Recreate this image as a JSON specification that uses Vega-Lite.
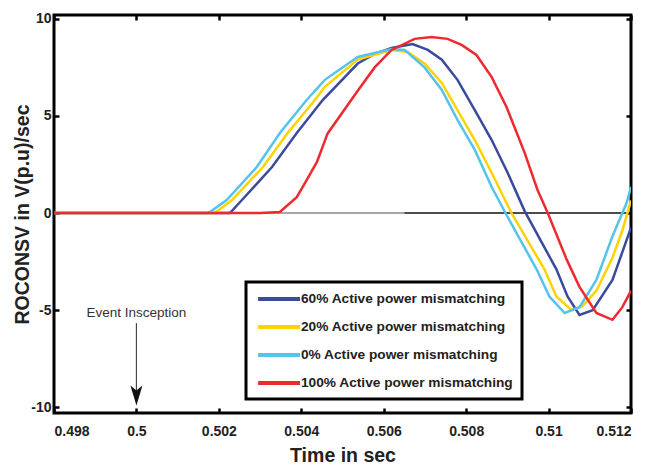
{
  "$schema": "https://vega.github.io/schema/vega-lite/v6.json",
  "width": 577,
  "height": 398,
  "autosize": {"type": "none"},
  "padding": {"left": 54, "top": 15, "right": 19, "bottom": 52},
  "background": "white",
  "config": {
    "view": {"stroke": "black", "strokeWidth": 3},
    "axis": {
      "domain": false, "grid": false, "ticks": true, "tickSize": -5, "tickWidth": 2.5, "tickColor": "black",
      "labelFont": "Liberation Sans, Arial, sans-serif", "labelFontSize": 14, "labelFontWeight": "bold", "labelColor": "#222",
      "titleFont": "Liberation Sans, Arial, sans-serif", "titleFontSize": 19.5, "titleFontWeight": "bold", "titleColor": "#222"
    },
    "legend": {"strokeWidth": 3}
  },
  "datasets": {
    "curves": [
      {"s": "60% Active power mismatching", "t": 0.498, "v": 0},
      {"s": "60% Active power mismatching", "t": 0.50227, "v": 0},
      {"s": "60% Active power mismatching", "t": 0.50256, "v": 0.67},
      {"s": "60% Active power mismatching", "t": 0.50329, "v": 2.37},
      {"s": "60% Active power mismatching", "t": 0.50389, "v": 4.12},
      {"s": "60% Active power mismatching", "t": 0.50452, "v": 5.82},
      {"s": "60% Active power mismatching", "t": 0.50537, "v": 7.7},
      {"s": "60% Active power mismatching", "t": 0.50578, "v": 8.2},
      {"s": "60% Active power mismatching", "t": 0.50619, "v": 8.5},
      {"s": "60% Active power mismatching", "t": 0.5067, "v": 8.7},
      {"s": "60% Active power mismatching", "t": 0.50707, "v": 8.4},
      {"s": "60% Active power mismatching", "t": 0.50741, "v": 7.9},
      {"s": "60% Active power mismatching", "t": 0.50779, "v": 6.86},
      {"s": "60% Active power mismatching", "t": 0.50821, "v": 5.3},
      {"s": "60% Active power mismatching", "t": 0.50862, "v": 3.76},
      {"s": "60% Active power mismatching", "t": 0.50901, "v": 2.06},
      {"s": "60% Active power mismatching", "t": 0.50942, "v": 0.1},
      {"s": "60% Active power mismatching", "t": 0.51019, "v": -2.9},
      {"s": "60% Active power mismatching", "t": 0.51046, "v": -4.3},
      {"s": "60% Active power mismatching", "t": 0.51075, "v": -5.25},
      {"s": "60% Active power mismatching", "t": 0.51107, "v": -5.0},
      {"s": "60% Active power mismatching", "t": 0.51155, "v": -3.45},
      {"s": "60% Active power mismatching", "t": 0.512, "v": -0.75},

      {"s": "20% Active power mismatching", "t": 0.498, "v": 0},
      {"s": "20% Active power mismatching", "t": 0.5019, "v": 0},
      {"s": "20% Active power mismatching", "t": 0.50232, "v": 0.67},
      {"s": "20% Active power mismatching", "t": 0.50307, "v": 2.37},
      {"s": "20% Active power mismatching", "t": 0.50367, "v": 4.12},
      {"s": "20% Active power mismatching", "t": 0.50433, "v": 5.82},
      {"s": "20% Active power mismatching", "t": 0.50457, "v": 6.5},
      {"s": "20% Active power mismatching", "t": 0.50537, "v": 7.9},
      {"s": "20% Active power mismatching", "t": 0.50619, "v": 8.4},
      {"s": "20% Active power mismatching", "t": 0.50658, "v": 8.3},
      {"s": "20% Active power mismatching", "t": 0.50699, "v": 7.7},
      {"s": "20% Active power mismatching", "t": 0.50741, "v": 6.7},
      {"s": "20% Active power mismatching", "t": 0.50779, "v": 5.3},
      {"s": "20% Active power mismatching", "t": 0.50821, "v": 3.76},
      {"s": "20% Active power mismatching", "t": 0.50862, "v": 2.06},
      {"s": "20% Active power mismatching", "t": 0.5091, "v": 0},
      {"s": "20% Active power mismatching", "t": 0.5099, "v": -2.9},
      {"s": "20% Active power mismatching", "t": 0.51019, "v": -4.3},
      {"s": "20% Active power mismatching", "t": 0.51056, "v": -5.0},
      {"s": "20% Active power mismatching", "t": 0.51082, "v": -4.8},
      {"s": "20% Active power mismatching", "t": 0.51116, "v": -4.0},
      {"s": "20% Active power mismatching", "t": 0.51155, "v": -2.3},
      {"s": "20% Active power mismatching", "t": 0.51179, "v": -0.9},
      {"s": "20% Active power mismatching", "t": 0.512, "v": 0.65},

      {"s": "0% Active power mismatching", "t": 0.498, "v": 0},
      {"s": "0% Active power mismatching", "t": 0.5017, "v": 0},
      {"s": "0% Active power mismatching", "t": 0.50178, "v": 0.05},
      {"s": "0% Active power mismatching", "t": 0.50219, "v": 0.67},
      {"s": "0% Active power mismatching", "t": 0.50292, "v": 2.37},
      {"s": "0% Active power mismatching", "t": 0.50348, "v": 4.12},
      {"s": "0% Active power mismatching", "t": 0.50413, "v": 5.82},
      {"s": "0% Active power mismatching", "t": 0.50457, "v": 6.86},
      {"s": "0% Active power mismatching", "t": 0.50537, "v": 8.04},
      {"s": "0% Active power mismatching", "t": 0.50619, "v": 8.45},
      {"s": "0% Active power mismatching", "t": 0.50651, "v": 8.4},
      {"s": "0% Active power mismatching", "t": 0.50699, "v": 7.5},
      {"s": "0% Active power mismatching", "t": 0.50741, "v": 6.34},
      {"s": "0% Active power mismatching", "t": 0.50779, "v": 4.8},
      {"s": "0% Active power mismatching", "t": 0.50821, "v": 3.25},
      {"s": "0% Active power mismatching", "t": 0.50862, "v": 1.34},
      {"s": "0% Active power mismatching", "t": 0.50898, "v": -0.1},
      {"s": "0% Active power mismatching", "t": 0.50971, "v": -2.9},
      {"s": "0% Active power mismatching", "t": 0.51002, "v": -4.3},
      {"s": "0% Active power mismatching", "t": 0.51039, "v": -5.15},
      {"s": "0% Active power mismatching", "t": 0.51075, "v": -4.85},
      {"s": "0% Active power mismatching", "t": 0.51116, "v": -3.45},
      {"s": "0% Active power mismatching", "t": 0.51155, "v": -1.2},
      {"s": "0% Active power mismatching", "t": 0.51189, "v": 0.5},
      {"s": "0% Active power mismatching", "t": 0.512, "v": 1.35},

      {"s": "100% Active power mismatching", "t": 0.498, "v": 0},
      {"s": "100% Active power mismatching", "t": 0.503, "v": 0},
      {"s": "100% Active power mismatching", "t": 0.50348, "v": 0.05},
      {"s": "100% Active power mismatching", "t": 0.50389, "v": 0.82},
      {"s": "100% Active power mismatching", "t": 0.50413, "v": 1.7},
      {"s": "100% Active power mismatching", "t": 0.50438, "v": 2.63},
      {"s": "100% Active power mismatching", "t": 0.50464, "v": 4.1},
      {"s": "100% Active power mismatching", "t": 0.50537, "v": 6.3},
      {"s": "100% Active power mismatching", "t": 0.50578, "v": 7.5},
      {"s": "100% Active power mismatching", "t": 0.50619, "v": 8.4},
      {"s": "100% Active power mismatching", "t": 0.50675, "v": 8.97},
      {"s": "100% Active power mismatching", "t": 0.50716, "v": 9.07},
      {"s": "100% Active power mismatching", "t": 0.50755, "v": 8.97},
      {"s": "100% Active power mismatching", "t": 0.50789, "v": 8.66},
      {"s": "100% Active power mismatching", "t": 0.50825, "v": 8.14},
      {"s": "100% Active power mismatching", "t": 0.50862, "v": 7.0},
      {"s": "100% Active power mismatching", "t": 0.50898, "v": 5.46},
      {"s": "100% Active power mismatching", "t": 0.50942, "v": 3.1},
      {"s": "100% Active power mismatching", "t": 0.50973, "v": 1.2},
      {"s": "100% Active power mismatching", "t": 0.50998, "v": 0},
      {"s": "100% Active power mismatching", "t": 0.51044, "v": -2.4},
      {"s": "100% Active power mismatching", "t": 0.51075, "v": -3.8},
      {"s": "100% Active power mismatching", "t": 0.51116, "v": -5.15},
      {"s": "100% Active power mismatching", "t": 0.51155, "v": -5.5},
      {"s": "100% Active power mismatching", "t": 0.51179, "v": -4.85},
      {"s": "100% Active power mismatching", "t": 0.512, "v": -4.0}
    ],
    "zeroGray": [{"t0": 0.498, "t1": 0.5065, "v": 0}],
    "zeroBlack": [{"t0": 0.5065, "t1": 0.512, "v": 0}],
    "event": [{"t": 0.5, "vtext": -5.15, "vtop": -5.67, "vbottom": -9.3, "vhead": -9.4, "label": "Event Insception"}]
  },
  "layer": [
    {
      "data": {"name": "zeroGray"},
      "mark": {"type": "rule", "color": "#8a8a8a", "strokeWidth": 1.5},
      "encoding": {
        "x": {"field": "t0", "type": "quantitative", "scale": {"domain": [0.498, 0.512], "nice": false, "zero": false},
              "axis": {"orient": "top", "labels": false, "title": null, "values": [0.498, 0.5, 0.502, 0.504, 0.506, 0.508, 0.51, 0.512]}},
        "x2": {"field": "t1"},
        "y": {"field": "v", "type": "quantitative", "scale": {"domain": [-10.3, 10.2], "nice": false, "zero": false},
              "axis": {"orient": "right", "labels": false, "title": null, "values": [-10, -5, 0, 5, 10]}}
      }
    },
    {
      "data": {"name": "zeroBlack"},
      "mark": {"type": "rule", "color": "#111", "strokeWidth": 1.5},
      "encoding": {
        "x": {"field": "t0", "type": "quantitative", "scale": {"domain": [0.498, 0.512], "nice": false, "zero": false}, "axis": null},
        "x2": {"field": "t1"},
        "y": {"field": "v", "type": "quantitative", "scale": {"domain": [-10.3, 10.2], "nice": false, "zero": false}, "axis": null}
      }
    },
    {
      "data": {"name": "curves"},
      "mark": {"type": "line", "strokeWidth": 2.5, "clip": true},
      "encoding": {
        "x": {"field": "t", "type": "quantitative", "scale": {"domain": [0.498, 0.512], "nice": false, "zero": false},
              "axis": {"orient": "bottom", "title": "Time in sec", "values": [0.498, 0.5, 0.502, 0.504, 0.506, 0.508, 0.51, 0.512],
                       "labelExpr": "'' + datum.value", "labelPadding": 16, "titleY": 42, "titleBaseline": "middle"}},
        "y": {"field": "v", "type": "quantitative", "scale": {"domain": [-10.3, 10.2], "nice": false, "zero": false},
              "axis": {"orient": "left", "title": "ROCONSV in V(p.u)/sec", "values": [-10, -5, 0, 5, 10],
                       "labelExpr": "'' + datum.value", "labelPadding": 8, "titleX": -32, "titleY": 199, "titleBaseline": "middle", "titleAngle": -90}},
        "color": {
          "field": "s", "type": "nominal",
          "scale": {"domain": ["60% Active power mismatching", "20% Active power mismatching", "0% Active power mismatching", "100% Active power mismatching"],
                    "range": ["#3A4B9E", "#FFD200", "#55C3EC", "#EE2A30"]},
          "legend": {
            "orient": "none", "legendX": 192, "legendY": 267, "title": null,
            "strokeColor": "black", "fillColor": "white", "padding": 8,
            "symbolType": "M-0.7,0H5.3", "symbolSize": 196, "symbolStrokeWidth": 4, "symbolFillColor": "transparent",
            "labelOffset": 29, "labelFont": "Liberation Sans, Arial, sans-serif", "labelFontSize": 13.7,
            "labelFontWeight": "bold", "labelColor": "#222", "rowPadding": 11, "labelLimit": 400
          }
        }
      }
    },
    {
      "data": {"name": "event"},
      "mark": {"type": "rule", "color": "#444", "strokeWidth": 1.2},
      "encoding": {
        "x": {"field": "t", "type": "quantitative", "scale": {"domain": [0.498, 0.512], "nice": false, "zero": false}, "axis": null},
        "y": {"field": "vtop", "type": "quantitative", "scale": {"domain": [-10.3, 10.2], "nice": false, "zero": false}, "axis": null},
        "y2": {"field": "vbottom"}
      }
    },
    {
      "data": {"name": "event"},
      "mark": {"type": "point", "shape": "M0,1L-0.6,-1L0,-0.5L0.6,-1Z", "size": 400, "filled": true, "color": "#111", "opacity": 1},
      "encoding": {
        "x": {"field": "t", "type": "quantitative", "scale": {"domain": [0.498, 0.512], "nice": false, "zero": false}, "axis": null},
        "y": {"field": "vhead", "type": "quantitative", "scale": {"domain": [-10.3, 10.2], "nice": false, "zero": false}, "axis": null}
      }
    },
    {
      "data": {"name": "event"},
      "mark": {"type": "text", "font": "Liberation Sans, Arial, sans-serif", "fontSize": 13.5, "color": "#333", "align": "center", "baseline": "middle"},
      "encoding": {
        "x": {"field": "t", "type": "quantitative", "scale": {"domain": [0.498, 0.512], "nice": false, "zero": false}, "axis": null},
        "y": {"field": "vtext", "type": "quantitative", "scale": {"domain": [-10.3, 10.2], "nice": false, "zero": false}, "axis": null},
        "text": {"field": "label"}
      }
    }
  ],
  "resolve": {"axis": {"x": "independent", "y": "independent"}}
}
